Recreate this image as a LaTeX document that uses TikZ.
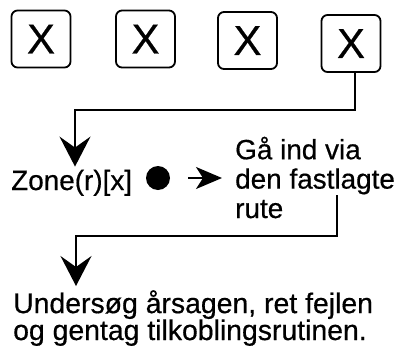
\documentclass[tikz,border=0pt]{standalone}
\usepackage{fontspec}
\setmainfont{Liberation Sans}[FakeBold=0.5]
\usetikzlibrary{arrows.meta}
\begin{document}
\begin{tikzpicture}[x=1bp,y=-1bp,
  xbox/.style={draw, line width=1.8bp, rounded corners=6bp, minimum width=59bp,
    minimum height=57bp, inner sep=0, font=\fontsize{42}{42}\selectfont},
  txt/.style={inner sep=0, font=\fontsize{28}{29.5}\selectfont},
  btxt/.style={inner sep=0, font=\fontsize{28.5}{27}\selectfont},
  conn/.style={line width=1.8bp},
  bighead/.style={-{Stealth[length=30bp,width=31bp,inset=11bp]}},
  smallhead/.style={-{Stealth[length=26bp,width=22bp,inset=7bp]}}]
\useasboundingbox (0,0) rectangle (395,347);
\node[xbox] (b1) at (41,39) {X};
\node[xbox] (b2) at (145.5,39) {X};
\node[xbox] (b3) at (247.5,40.5) {X};
\node[xbox] (b4) at (351,43.5) {X};
\node[txt, anchor=base west] (zone) at (11,190) {Zone(r)[x]};
\node[circle, fill, inner sep=0, minimum size=24bp] (dot) at (158,178) {};
\node[txt, anchor=base west, align=left] (route) at (235,218) {Gå ind via\\den fastlagte\\rute};
\node[btxt, anchor=base west, align=left] (fix) at (13,340) {Undersøg årsagen, ret fejlen\\og gentag tilkoblingsrutinen.};
\coordinate (c1) at (75,110);
\coordinate (r1) at (337,195);
\coordinate (c2) at (76,236);
\draw[conn,bighead,shorten >=3bp] ([xshift=4bp]b4.south) |- (c1) -- (c1 |- zone.north);
\draw[conn,smallhead,shorten >=13bp] ([xshift=18bp]dot.east) -- (dot.east -| route.west);
\draw[conn,bighead,shorten >=4bp] (r1) |- (c2) -- (c2 |- fix.north);
\end{tikzpicture}
\end{document}
